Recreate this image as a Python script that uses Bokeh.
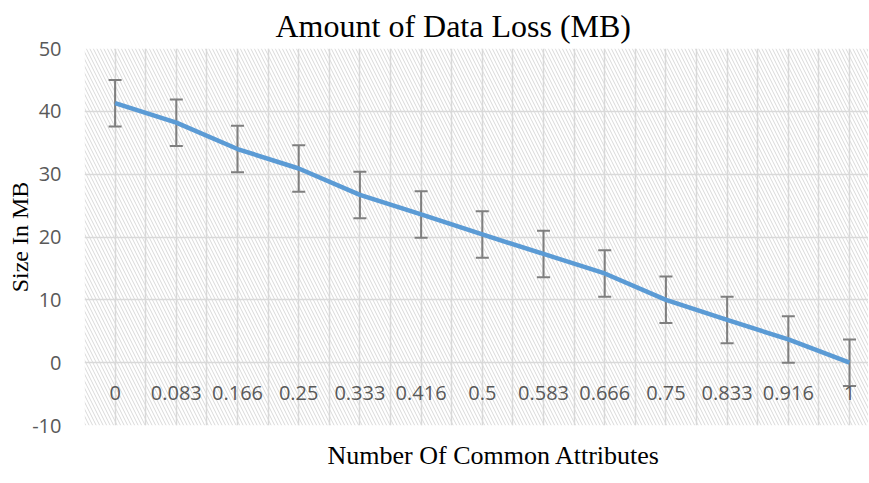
from bokeh.plotting import figure
from bokeh.models import Range1d, FixedTicker, Whisker, TeeHead, ColumnDataSource, BoxAnnotation, Title
from bokeh.core.properties import value
from bokeh.embed import file_html
from bokeh.resources import INLINE

# ---- data ----
categories = ["0", "0.083", "0.166", "0.25", "0.333", "0.416", "0.5",
              "0.583", "0.666", "0.75", "0.833", "0.916", "1"]
data_loss = [41.3, 38.2, 34.0, 30.9, 26.7, 23.6, 20.4, 17.3, 14.2, 10.0, 6.8, 3.7, 0.0]
error = [3.7, 3.7, 3.7, 3.7, 3.7, 3.7, 3.7, 3.7, 3.7, 3.7, 3.7, 3.7, 3.7]
y_ticks = [-10, 0, 10, 20, 30, 40, 50]
y_tick_labels = ["-10", "0", "10", "20", "30", "40", "50"]

title_text = "Amount of Data Loss (MB)"
x_title = "Number Of Common Attributes"
y_title = "Size In MB"

# ---- build ----
idx = list(range(len(categories)))
src = ColumnDataSource(dict(
    x=idx,
    y=data_loss,
    upper=[v + e for v, e in zip(data_loss, error)],
    lower=[v - e for v, e in zip(data_loss, error)],
    label=categories,
    base0=[0] * len(categories),
))

p = figure(width=868, height=482, output_backend="svg", toolbar_location=None,
           x_range=Range1d(-0.5, 12.31), y_range=Range1d(-10, 50),
           min_border_left=84, min_border_right=0, min_border_top=48, min_border_bottom=56)
p.background_fill_color = "white"
p.border_fill_color = "white"
p.outline_line_color = None

# title
p.title.text = title_text
p.title.text_font = "Liberation Serif"
p.title.text_font_size = "32px"
p.title.text_font_style = "normal"
p.title.text_color = "black"
p.title.align = "left"
p.title.offset = 191
p.title.standoff = 10

# x axis title below the frame
xt = Title(text=x_title, align="left", offset=243, standoff=26,
           text_font="Liberation Serif", text_font_size="26px",
           text_font_style="normal", text_color="black")
p.add_layout(xt, "below")

# hatched background
hatch = BoxAnnotation(fill_alpha=0, line_alpha=0, hatch_pattern="\\", hatch_color="#d9d9d9",
                      hatch_scale=7, hatch_weight=1, level="image")
p.add_layout(hatch)

# grids
half_ticks = [i * 0.5 - 0.5 for i in range(2 * len(categories) + 1)]
p.xaxis.visible = False
p.xgrid.ticker = FixedTicker(ticks=half_ticks)
p.yaxis.ticker = FixedTicker(ticks=y_ticks)
p.xgrid.grid_line_color = "#d9d9d9"
p.ygrid.grid_line_color = "#d9d9d9"
p.xgrid.grid_line_width = 1.5
p.ygrid.grid_line_width = 1.5

# y axis
p.yaxis.axis_line_color = None
p.yaxis.major_tick_line_color = None
p.yaxis.minor_tick_line_color = None
p.yaxis.major_tick_out = 0
p.yaxis.major_tick_in = 0
p.yaxis.major_label_overrides = {t: s for t, s in zip(y_ticks, y_tick_labels)}
p.yaxis.major_label_standoff = 23
p.yaxis.major_label_text_font = "Open Sans"
p.yaxis.major_label_text_font_size = "20px"
p.yaxis.major_label_text_color = "#595959"
p.yaxis.axis_label = y_title
p.yaxis.axis_label_text_font = "Liberation Serif"
p.yaxis.axis_label_text_font_size = "24px"
p.yaxis.axis_label_text_font_style = "normal"
p.yaxis.axis_label_text_color = "black"
p.yaxis.axis_label_standoff = -4

# category labels next to the zero line
p.text(x="x", y="base0", text="label", source=src, y_offset=30,
       text_align="center", text_baseline="middle",
       text_font=value("Open Sans"), text_font_size="20px", text_color="#595959")

# line
p.line(x="x", y="y", source=src, line_color="#5b9bd5", line_width=4.5, line_join="round")

# error bars
wh = Whisker(base="x", upper="upper", lower="lower", source=src,
             line_color="#7f7f7f", line_width=2,
             upper_head=TeeHead(size=13, line_color="#7f7f7f", line_width=2),
             lower_head=TeeHead(size=13, line_color="#7f7f7f", line_width=2))
p.add_layout(wh)

open("out.html", "w").write(file_html(p, INLINE))
